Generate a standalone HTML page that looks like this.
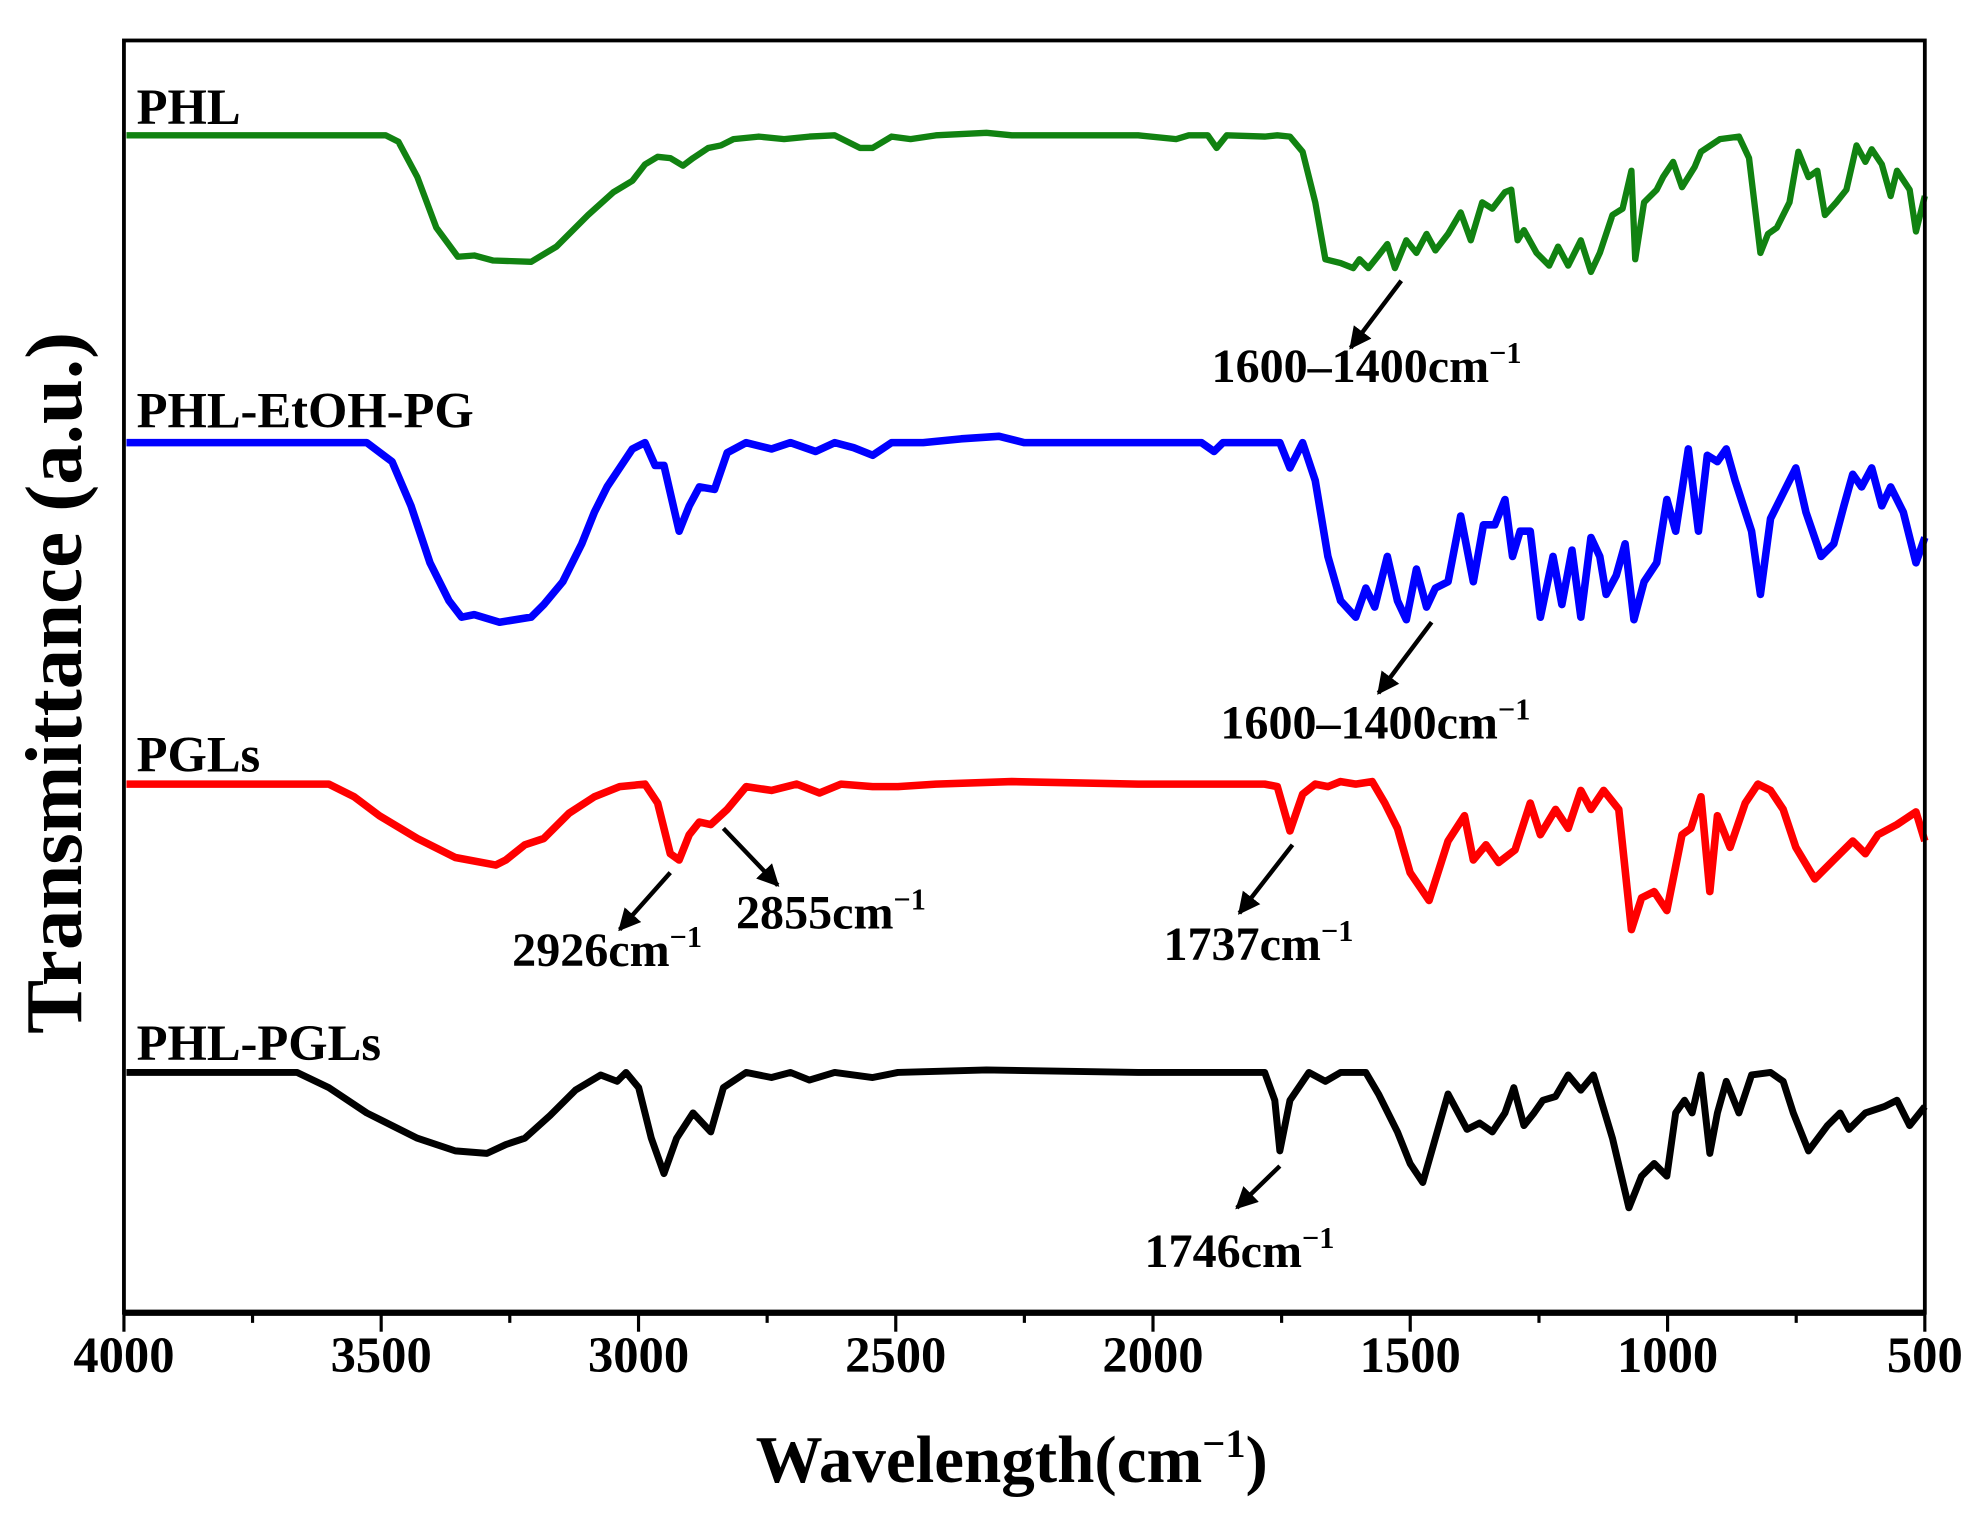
<!DOCTYPE html>
<html><head><meta charset="utf-8"><style>html,body{margin:0;padding:0;background:#fff}svg{display:block}</style></head>
<body>
<svg width="1983" height="1528" viewBox="0 0 1568 1208.2" preserveAspectRatio="none" xmlns="http://www.w3.org/2000/svg" font-family="Liberation Serif, serif" font-weight="bold">
<defs><marker id="ah" viewBox="0 0 10 10" refX="9" refY="5" markerWidth="5" markerHeight="5" orient="auto"><path d="M0,0L10,5L0,10z" fill="#000"/></marker></defs>
<g fill="none" stroke-width="5" stroke-linejoin="round">
<polyline stroke="#118211" points="100,107 305,107 315,112 330,140 345,180 362,203 375,202 390,206 420,207 440,195 465,170 485,152 500,143 510,130 520,124 530,125 540,131 548,125 560,117 570,115 580,110 600,108 620,110 640,108 660,107 680,117 690,117 705,108 720,110 740,107 760,106 780,105 800,107 850,107 900,107 930,110 940,107 955,107 962,117 970,107 1000,108 1010,107 1020,108 1030,120 1040,160 1048,205 1060,208 1070,212 1075,205 1082,212 1090,202 1097,193 1103,212 1112,190 1120,200 1128,185 1135,198 1145,185 1155,168 1163,190 1172,160 1180,165 1190,152 1195,150 1200,190 1205,182 1215,200 1225,210 1232,195 1240,210 1250,190 1258,215 1265,200 1275,170 1283,165 1290,135 1293,205 1300,160 1310,150 1315,140 1323,128 1330,148 1340,132 1345,120 1360,110 1375,108 1383,125 1392,200 1398,185 1405,180 1415,160 1422,120 1430,140 1437,135 1443,170 1452,160 1460,150 1468,115 1475,128 1480,118 1488,130 1495,155 1500,135 1510,150 1515,183 1522,155"/>
<polyline stroke="#0000ff" stroke-width="6" points="100,350 290,350 310,365 325,400 340,445 355,475 365,488 375,486 395,492 420,488 430,478 445,460 460,430 470,405 480,385 490,370 500,355 510,350 518,368 525,368 537,420 545,400 553,385 565,387 575,358 590,350 610,355 625,350 645,357 660,350 675,354 690,360 705,350 730,350 760,347 790,345 810,350 900,350 950,350 960,357 967,350 1005,350 1012,350 1020,370 1030,350 1040,380 1050,440 1060,475 1072,488 1080,465 1087,480 1097,440 1105,475 1112,490 1120,450 1128,480 1135,465 1145,460 1155,408 1165,460 1173,415 1182,415 1190,395 1196,440 1202,420 1210,420 1218,488 1228,440 1235,478 1243,435 1250,488 1258,425 1265,440 1270,470 1278,455 1285,430 1292,490 1300,460 1310,445 1318,395 1325,420 1335,355 1343,420 1350,360 1358,365 1365,355 1372,380 1385,420 1392,470 1400,410 1410,390 1420,370 1428,405 1440,440 1450,430 1458,400 1465,375 1472,385 1480,370 1488,400 1495,385 1505,405 1515,445 1522,425"/>
<polyline stroke="#ff0000" stroke-width="6" points="100,620 260,620 280,630 300,645 330,663 360,678 392,684 400,680 415,668 430,663 450,643 470,630 490,622 510,620 520,635 530,675 537,680 545,660 553,650 562,652 575,640 590,622 610,625 630,620 648,627 665,620 690,622 710,622 740,620 800,618 900,620 1000,620 1010,622 1020,657 1030,628 1040,620 1050,622 1060,618 1072,620 1085,618 1095,635 1105,655 1115,690 1130,712 1145,665 1158,645 1165,680 1175,668 1185,682 1198,672 1210,635 1218,660 1230,640 1240,655 1250,625 1258,640 1268,625 1280,640 1290,735 1298,710 1308,705 1318,720 1330,660 1337,655 1345,630 1352,705 1358,645 1368,670 1380,635 1390,620 1400,625 1410,640 1420,670 1435,695 1450,680 1465,665 1475,675 1485,660 1500,652 1515,642 1522,665"/>
<polyline stroke="#000" stroke-width="5.5" points="100,848 235,848 260,860 290,880 330,900 360,910 385,912 400,905 415,900 435,882 455,862 475,850 488,855 495,848 505,860 515,900 525,928 535,900 548,880 562,895 572,860 590,848 610,852 625,848 640,854 660,848 690,852 710,848 780,846 900,848 1000,848 1008,870 1012,910 1020,870 1035,848 1048,855 1060,848 1080,848 1090,865 1105,895 1115,920 1125,935 1135,900 1145,865 1160,893 1170,888 1180,895 1190,880 1197,860 1205,890 1213,880 1220,870 1230,867 1240,850 1250,862 1260,850 1275,900 1288,955 1298,930 1308,920 1318,930 1325,880 1332,870 1338,880 1345,850 1352,912 1358,880 1365,855 1375,880 1385,850 1400,848 1410,855 1418,880 1430,910 1445,890 1455,880 1462,893 1475,880 1490,875 1500,870 1510,890 1522,875"/>
</g>
<rect x="98" y="32" width="1424" height="1006" fill="none" stroke="#000" stroke-width="3"/>
<line x1="98" y1="1038" x2="1522" y2="1038" stroke="#000" stroke-width="5"/>
<g stroke="#000" stroke-width="2.5">
<line x1="98" y1="1038" x2="98" y2="1053"/><line x1="301.4" y1="1038" x2="301.4" y2="1053"/><line x1="504.9" y1="1038" x2="504.9" y2="1053"/><line x1="708.3" y1="1038" x2="708.3" y2="1053"/><line x1="911.7" y1="1038" x2="911.7" y2="1053"/><line x1="1115.1" y1="1038" x2="1115.1" y2="1053"/><line x1="1318.6" y1="1038" x2="1318.6" y2="1053"/><line x1="1522" y1="1038" x2="1522" y2="1053"/>
<line x1="199.7" y1="1038" x2="199.7" y2="1046"/><line x1="403.1" y1="1038" x2="403.1" y2="1046"/><line x1="606.6" y1="1038" x2="606.6" y2="1046"/><line x1="810" y1="1038" x2="810" y2="1046"/><line x1="1013.4" y1="1038" x2="1013.4" y2="1046"/><line x1="1216.9" y1="1038" x2="1216.9" y2="1046"/><line x1="1420.3" y1="1038" x2="1420.3" y2="1046"/>
</g>
<g font-size="40" text-anchor="middle">
<text x="98" y="1085">4000</text><text x="301.4" y="1085">3500</text><text x="504.9" y="1085">3000</text><text x="708.3" y="1085">2500</text><text x="911.7" y="1085">2000</text><text x="1115.1" y="1085">1500</text><text x="1318.6" y="1085">1000</text><text x="1522" y="1085">500</text>
</g>
<text x="800" y="1172" font-size="53" text-anchor="middle">Wavelength(cm<tspan font-size="32" dy="-20">−1</tspan><tspan dy="20">)</tspan></text>
<text transform="translate(64,540) rotate(-90)" font-size="64" text-anchor="middle">Transmittance (a.u.)</text>
<g font-size="40">
<text x="108" y="98">PHL</text><text x="108" y="338">PHL-EtOH-PG</text><text x="108" y="610">PGLs</text><text x="108" y="838">PHL-PGLs</text>
</g>
<g stroke="#000" stroke-width="3.5" marker-end="url(#ah)">
<line x1="1108" y1="222" x2="1068" y2="275"/><line x1="1132" y1="492" x2="1090" y2="548"/><line x1="530" y1="690" x2="490" y2="735"/><line x1="572" y1="655" x2="615" y2="700"/><line x1="1022" y1="668" x2="980" y2="722"/><line x1="1012" y1="922" x2="978" y2="955"/>
</g>
<g font-size="38">
<text x="958" y="302">1600–1400cm<tspan font-size="24" dy="-15">−1</tspan></text>
<text x="965" y="584">1600–1400cm<tspan font-size="24" dy="-15">−1</tspan></text>
<text x="405" y="764">2926cm<tspan font-size="24" dy="-15">−1</tspan></text>
<text x="582" y="734">2855cm<tspan font-size="24" dy="-15">−1</tspan></text>
<text x="920" y="759">1737cm<tspan font-size="24" dy="-15">−1</tspan></text>
<text x="905" y="1002">1746cm<tspan font-size="24" dy="-15">−1</tspan></text>
</g>
</svg>
</body></html>
